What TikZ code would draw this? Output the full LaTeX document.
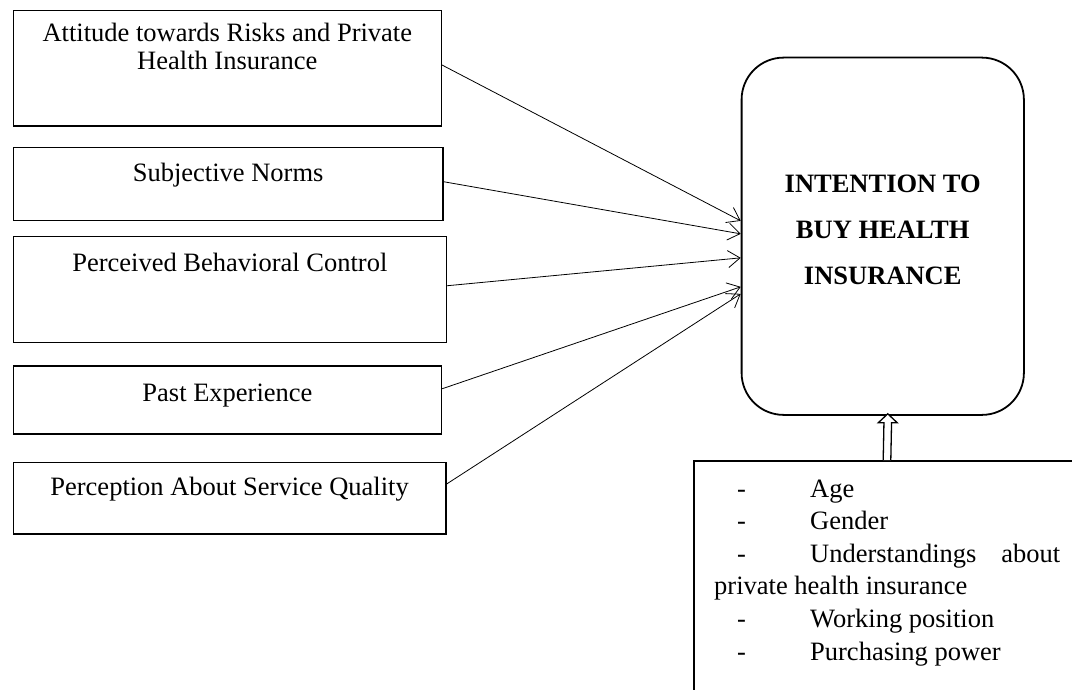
\documentclass[tikz,border=0pt]{standalone}
\usepackage{fontspec}
\setmainfont{Liberation Serif}
\usetikzlibrary{arrows.meta,calc}

\tikzset{
  factor/.style={draw, line width=1.5pt, rectangle, inner sep=0pt, anchor=north west},
  factortext/.style={anchor=base, inner sep=0pt, align=center,
    font=\fontsize{26.5pt}{28pt}\selectfont},
  goal/.style={draw, line width=1.8pt, rectangle, rounded corners=42pt, inner sep=0pt,
    anchor=north west},
  goaltext/.style={anchor=north, inner sep=0pt, align=center,
    font=\fontsize{26.5pt}{45.7pt}\selectfont\bfseries},
  demo/.style={draw, line width=1.6pt, rectangle, inner sep=0pt, anchor=north west},
  demotext/.style={anchor=base west, inner sep=0pt, align=left,
    font=\fontsize{26.5pt}{32.6pt}\selectfont},
  link/.style={line width=0.8pt, -{Straight Barb[length=12pt,width=17pt,line width=0.8pt]}},
  doublearrow/.style={line width=1.3pt, fill=white, line join=miter}
}

\begin{document}
\begin{tikzpicture}[x=1pt,y=-1pt]
  \useasboundingbox (0,0) rectangle (1072,690);
  \clip (0,0) rectangle (1072,690);

  % influencing factors on the left
  \node[factor, minimum width=427.8pt, minimum height=115.5pt] (b1) at (12.7,10) {};
  \node[factor, minimum width=429.3pt, minimum height=73.3pt]  (b2) at (12.7,146.7) {};
  \node[factor, minimum width=432.8pt, minimum height=106pt]   (b3) at (12.7,235.7) {};
  \node[factor, minimum width=428pt,   minimum height=68pt]    (b4) at (12.7,365) {};
  \node[factor, minimum width=432.3pt, minimum height=71.3pt]  (b5) at (12.7,461.7) {};

  % multi-line texts are anchored at the baseline of their last line
  \node[factortext] (t1) at ($(b1.north)+(0,60)$) {Attitude towards Risks and Private\\Health Insurance};
  \node[factortext] (t2) at ($(b2.north)+(0,35)$) {Subjective Norms};
  \node[factortext] (t3) at ($(b3.north)+(0,36)$) {Perceived Behavioral Control};
  \node[factortext] (t4) at ($(b4.north)+(0,36.7)$) {Past Experience};
  \node[factortext] (t5) at ($(b5.north)+(0,33.5)$) {Perception About Service Quality};

  % dependent variable
  \node[goal, minimum width=282.3pt, minimum height=357.3pt] (goal) at (740.7,56.7) {};
  \node[goaltext] (gt) at (goal.north |- 0,175) {INTENTION TO\\BUY HEALTH\\INSURANCE};

  % demographic controls (runs past the page edge)
  \node[demo, minimum width=420pt, minimum height=260pt] (demo) at (693,460) {};
  \node[demotext] (dt) at (714,660) {%
    \makebox[96pt][l]{\hspace*{23pt}-}Age\\
    \makebox[96pt][l]{\hspace*{23pt}-}Gender\\
    \makebox[346pt][l]{\makebox[96pt][l]{\hspace*{23pt}-}Understandings\hfill about}\\
    private health insurance\\
    \makebox[96pt][l]{\hspace*{23pt}-}Working position\\
    \makebox[96pt][l]{\hspace*{23pt}-}Purchasing power};

  % connectors from the factors to the intention
  \draw[link] ([yshift=3.5pt]b1.east) -- ([yshift=15.4pt]goal.west);
  \draw[link] ([yshift=2.4pt]b2.east) -- ([yshift=2.4pt]goal.west);
  \draw[link] ([yshift=3.7pt]b3.east) -- ([yshift=-21.6pt]goal.west);
  \draw[link] ([yshift=11pt]b4.east) -- ([yshift=-50.6pt]goal.west);
  \draw[link] ([yshift=14pt]b5.east) -- ([yshift=-57.6pt]goal.west);

  % hollow block arrow from the controls up to the intention
  \coordinate (dtop) at (887,0 |- demo.north);
  \coordinate (gbot) at ([xshift=5pt,yshift=2pt]goal.south);
  \draw[doublearrow]
    ($(dtop)+(-3.8,0)$) -- ($(gbot)+(-3.8,9)$) -- ($(gbot)+(-9.5,9)$) --
    (gbot) -- ($(gbot)+(9.5,9)$) -- ($(gbot)+(3.8,9)$) -- ($(dtop)+(3.8,0)$);
\end{tikzpicture}
\end{document}
